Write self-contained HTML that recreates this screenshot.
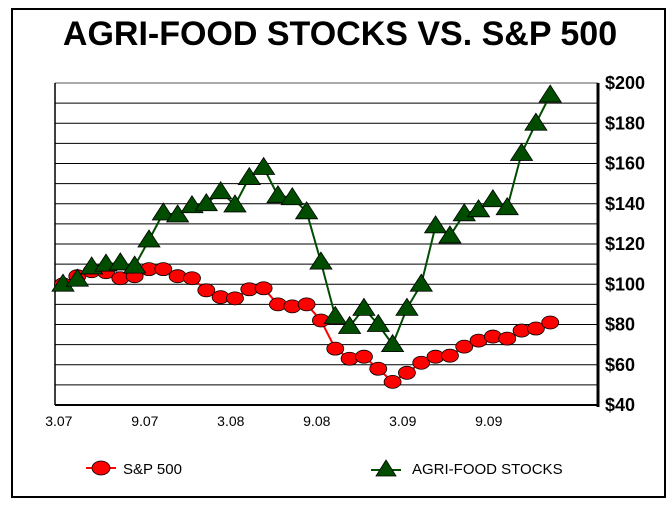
<!DOCTYPE html>
<html><head><meta charset="utf-8"><style>
body{margin:0;background:#fff;}
svg{display:block;font-family:"Liberation Sans",Arial,sans-serif;}
</style></head><body>
<svg id="c" width="672" height="510" viewBox="0 0 672 510">
<rect x="12" y="9" width="653" height="488" fill="#fff" stroke="#000" stroke-width="2"/>
<text x="340" y="45" text-anchor="middle" font-size="34" font-weight="bold">AGRI-FOOD STOCKS VS. S&amp;P 500</text>
<g id="grid"></g>
<g id="axes"></g>
<g id="series"></g>
<g>
<g>
<line x1="86" y1="468" x2="116" y2="468" stroke="#f00" stroke-width="2"/>
<ellipse cx="101" cy="468" rx="9" ry="7" fill="#f00" stroke="#000" stroke-width="0.8"/>
<text x="123" y="474" font-size="15">S&amp;P 500</text>
</g>
<g>
<line x1="371" y1="470" x2="401" y2="470" stroke="#004d00" stroke-width="2"/>
<polygon points="386,460 396,476 376,476" fill="#004d00" stroke="#000" stroke-width="0.8"/>
<text x="412" y="474" font-size="15">AGRI-FOOD STOCKS</text>
</g>
</g>
</svg>
<script>
const xLabels=["3.07","9.07","3.08","9.08","3.09","9.09"];
const xLabelIdx=[-0.5,5.5,11.5,17.5,23.5,29.5];
const yTicks=[40,60,80,100,120,140,160,180,200];
const sp500=[100,104,106.5,106,103,104,107.5,107.5,104,103,97,93.6,93,97.5,98,90,89,90,82,68,63,64,58,51.5,56,61,64,64.5,69,72,74,73,77,78,81];
const agri=[100,102.5,108.6,110,110.6,109,122,135.4,134.4,139,140,146,139.4,153,158,144,143,136,111,84,79,88,80,70,88,100,129,124,135,137,142,138,165,180,194];
const NS="http://www.w3.org/2000/svg";
const L=55,R=598,T=83,B=405,vmin=40,vmax=200;
function xs(i){return 63+14.33*i;}
function ys(v){return B-(v-vmin)*(B-T)/(vmax-vmin);}
function mk(t,a,p){const e=document.createElementNS(NS,t);for(const k in a)e.setAttribute(k,a[k]);p.appendChild(e);return e;}
const grid=document.getElementById('grid'),axes=document.getElementById('axes'),ser=document.getElementById('series');
for(let v=vmin+10;v<vmax;v+=10){
 const g=mk('line',{x1:L,x2:R,y1:ys(v),y2:ys(v),stroke:'#000','stroke-width':1},grid);
 
 
}
const topLine=mk('line',{x1:L,x2:R,y1:T,y2:T,stroke:'#555','stroke-width':1},axes);


const la=mk('line',{x1:L,x2:L,y1:T,y2:B,stroke:'#000','stroke-width':1.5},axes);


const xa=mk('line',{x1:L,x2:R,y1:B,y2:B,stroke:'#000','stroke-width':2},axes);


const ya=mk('line',{x1:R,x2:R,y1:T,y2:B+2,stroke:'#000','stroke-width':3},axes);


yTicks.forEach(v=>{const t=mk('text',{x:605,y:ys(v)+6,'font-size':18,'font-weight':'bold'},axes);t.textContent='$'+v;
 
 });
xLabels.forEach((s,k)=>{const t=mk('text',{x:xs(xLabelIdx[k])+3,y:426,'font-size':14,'text-anchor':'middle'},axes);t.textContent=s;
 
 });
const sl=mk('polyline',{points:sp500.map((v,i)=>xs(i)+','+ys(v)).join(' '),fill:'none',stroke:'#f00','stroke-width':2},ser);


const al=mk('polyline',{points:agri.map((v,i)=>xs(i)+','+ys(v)).join(' '),fill:'none',stroke:'#004d00','stroke-width':2},ser);


sp500.forEach((v,i)=>{const c=mk('ellipse',{cx:xs(i),cy:ys(v),rx:8.5,ry:6.5,fill:'#f00',stroke:'#000','stroke-width':0.8},ser);
 
 });
agri.forEach((v,i)=>{const x=xs(i),y=ys(v);const p=mk('polygon',{points:`${x},${y-10} ${x+11},${y+7} ${x-11},${y+7}`,fill:'#004d00',stroke:'#000','stroke-width':0.8},ser);
 
 });
</script>
</body></html>
